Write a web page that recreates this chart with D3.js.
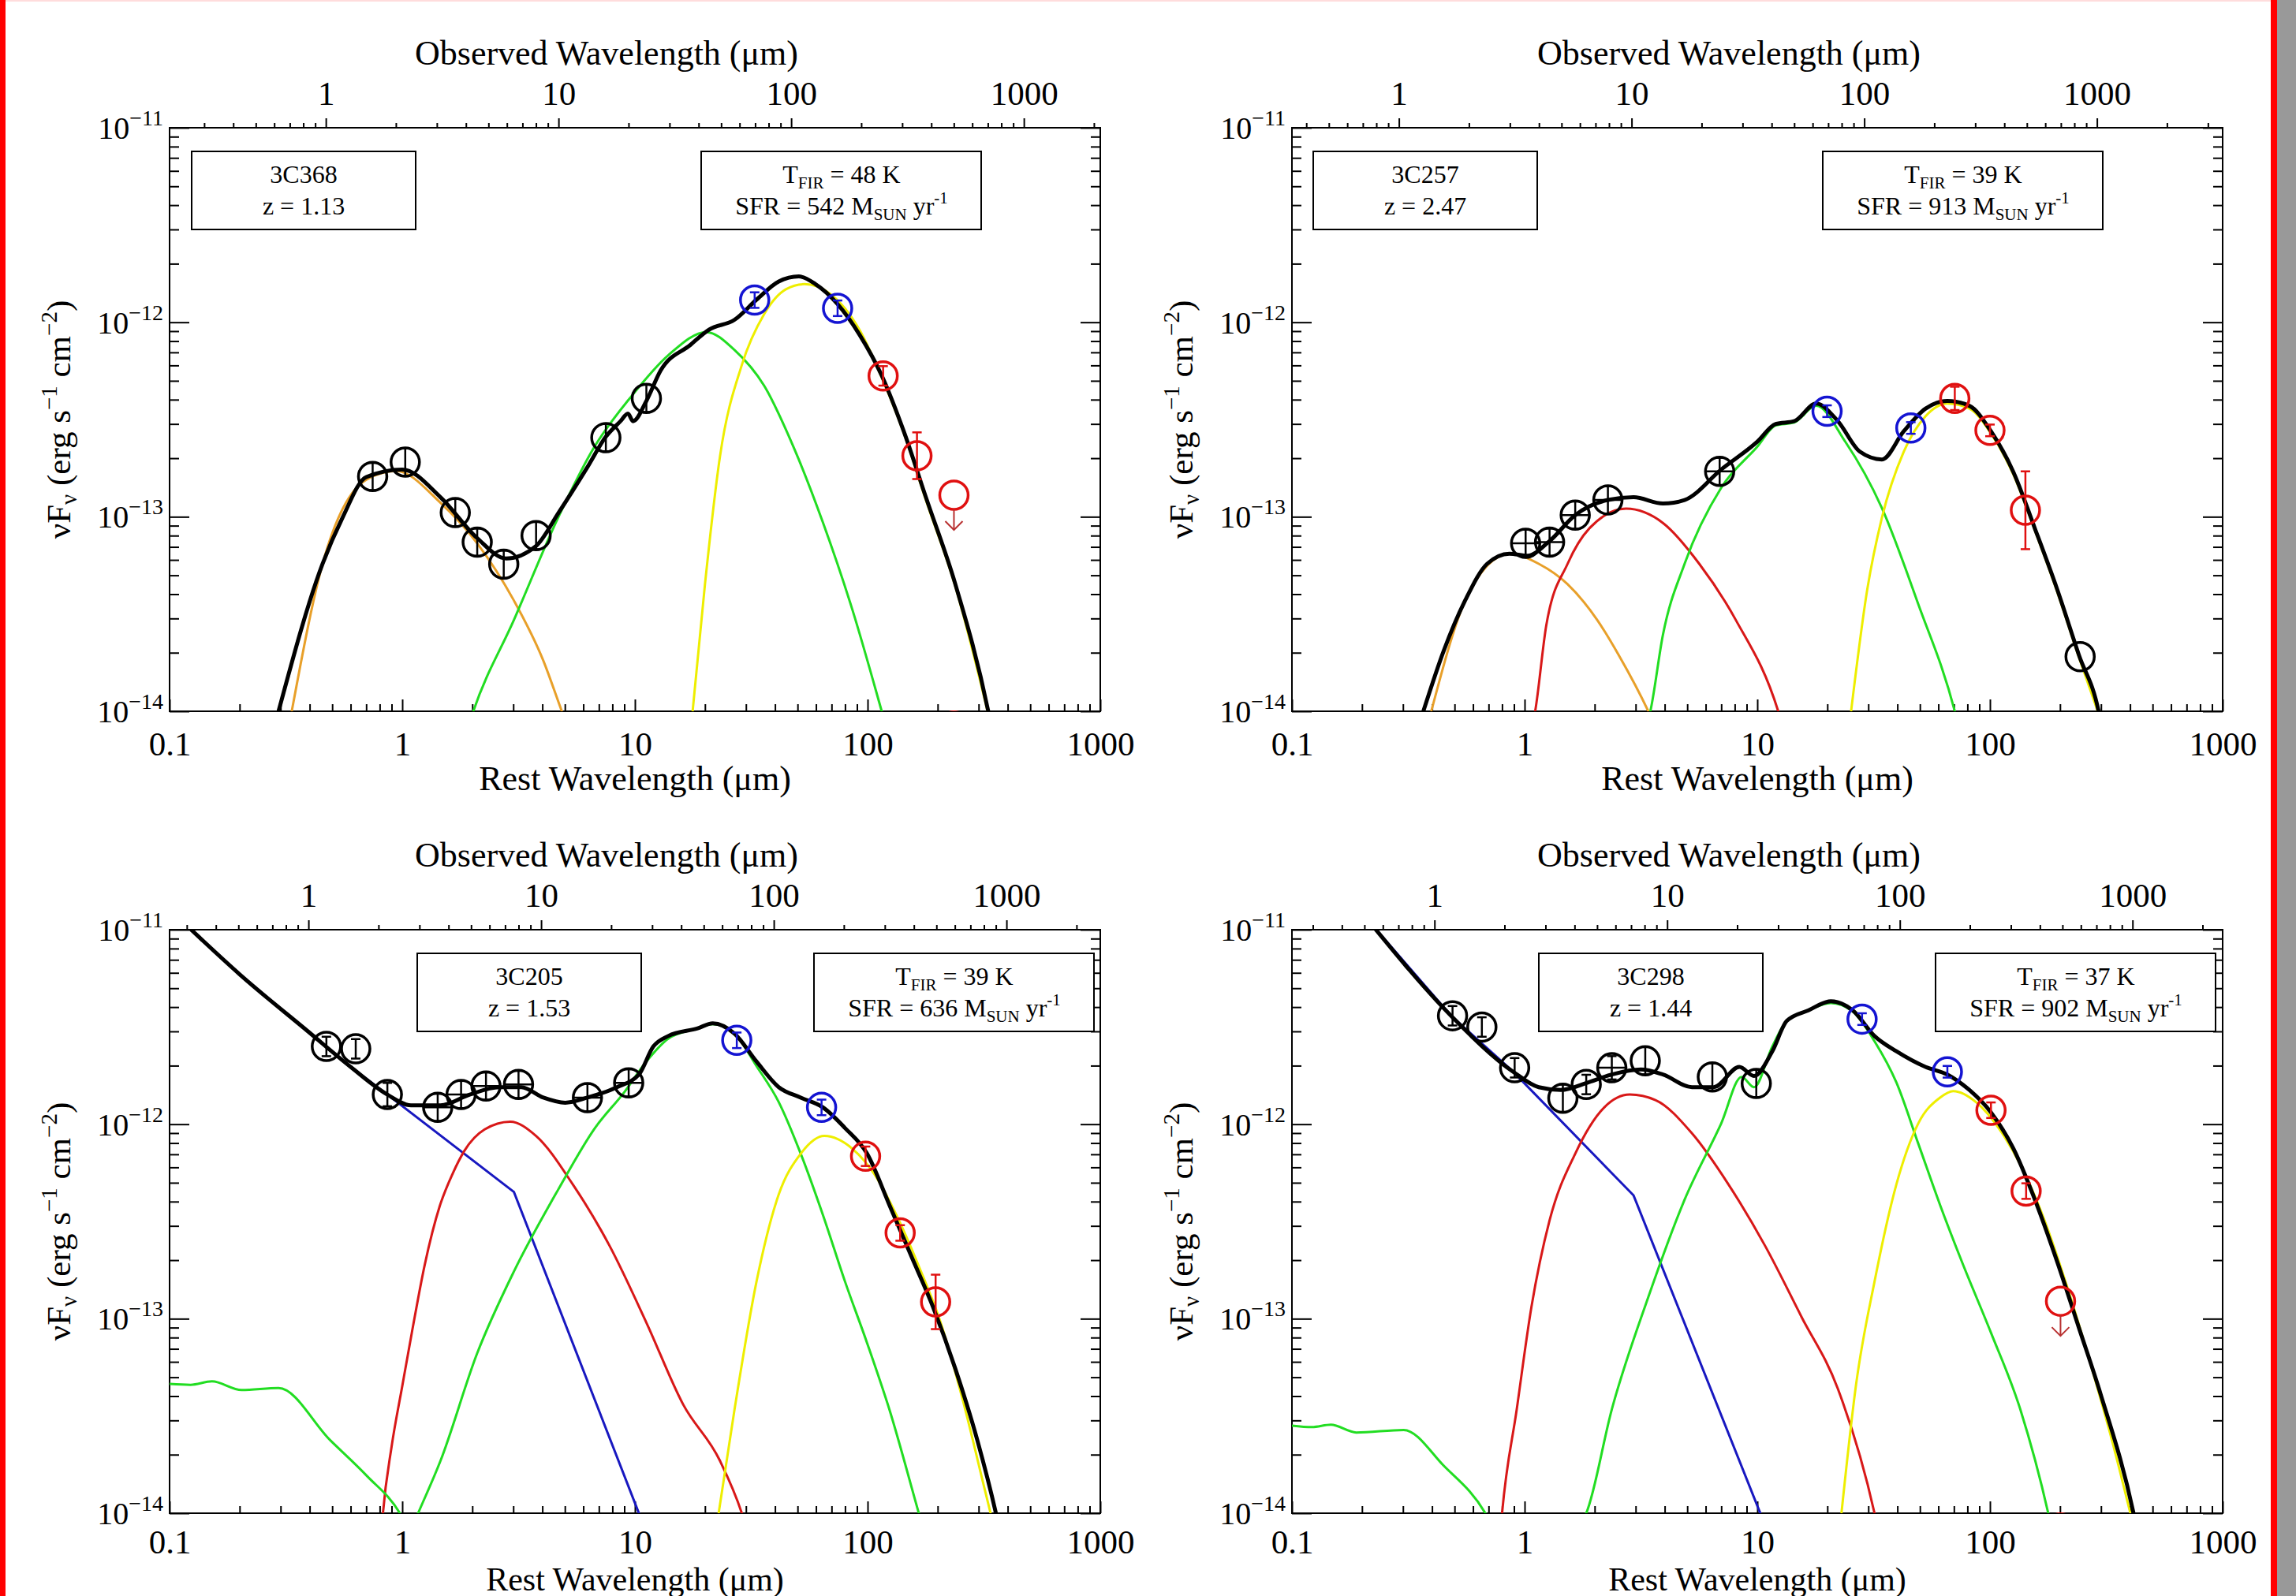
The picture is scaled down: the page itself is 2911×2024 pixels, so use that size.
<!DOCTYPE html>
<html>
<head>
<meta charset="utf-8">
<script src="https://cdn.jsdelivr.net/npm/d3@7"></script>
<style>
  body { margin: 0; background: #fff; }
  svg text { font-family: "Liberation Serif", "Times New Roman", serif; fill: #000; }
</style>
</head>
<body>
<svg id="sed" width="2911" height="2024"></svg>
<script>
/* SED panels: rest wavelength vs nuFnu, with observed wavelength on top */
const svg = d3.select("svg#sed");
const plotWidth = 1180;
const plotHeight = 740;
const panelOrigins = [[215, 162], [1638, 162], [215, 1179], [1638, 1179]];
const leftBoxX = [28, 27, 314, 313];
const rightBoxX = [674, 673, 817, 816];
const bottomTitleY = [100, 100, 97.5, 97.5];
const bottomTitleSize = [44, 44, 42, 42];
const bottomLabelPad = [25, 25, 20, 20];

// sources
const sourceNames = ["3C368", "3C257", "3C205", "3C298"];
const redshifts = [1.13, 2.47, 1.53, 1.44];
const dustTemps = [48, 39, 39, 37];
const starRates = [542, 913, 636, 902];

// axis ticks
const restMajor = [0.1, 1, 10, 100, 1000];
const obsMajor = [1, 10, 100, 1000];
const fluxMajor = [1e-14, 1e-13, 1e-12, 1e-11];
const fluxExponents = ["\u221214", "\u221213", "\u221212", "\u221211"];
const minorMultipliers = [2, 3, 4, 5, 6, 7, 8, 9];

// ---- 3C368 (model curves: [rest um, nuFnu]) ----
const total3C368 = [[0.294,1.0e-14],[0.455,5.75e-14],[0.553,9.86e-14],[0.70,1.6e-13],[1.0,1.75e-13],[1.46,1.26e-13],
  [2.1,7.76e-14],[2.8,6.1e-14],[3.76,7.08e-14],[4.7,1.05e-13],[6.25,1.8e-13],[7.5,2.58e-13],[8.67,3.1e-13],
  [9.33,3.39e-13],[9.82,3.1e-13],[11.2,3.94e-13],[12.9,5.65e-13],[17.3,7.64e-13],[20.8,9.16e-13],[26.8,1.03e-12],
  [33.4,1.31e-12],[41.5,1.62e-12],[50.6,1.72e-12],[59.7,1.57e-12],[74.3,1.24e-12],[92.5,8.6e-13],[115,5.32e-13],
  [143,2.75e-13],[178,1.26e-13],[238,4.52e-14],[330,1.0e-14],[350,7e-15]];
const stars3C368 = [[0.335,1.0e-14],[0.455,5.75e-14],[0.70,1.55e-13],[0.94,1.72e-13],[1.46,1.18e-13],[2.1,7.3e-14],
  [3.0,3.76e-14],[4.04,1.82e-14],[4.85,1.0e-14],[5.2,8e-15]];
const torus3C368 = [[1.9,8e-15],[2.02,1.0e-14],[3.02,2.95e-14],[4.67,9.86e-14],[6.7,2.29e-13],[9.7,4.19e-13],[13.9,6.76e-13],
  [20.3,8.9e-13],[26.8,7.2e-13],[35.9,4.72e-13],[48,2.29e-13],[64.3,9.33e-14],[86,3.33e-14],[115,1.0e-14],[125,7e-15]];
const cold3C368 = [[17.7,1.0e-14],[20,4.5e-14],[23.2,2.04e-13],[28.8,6.03e-13],[35.9,1.1e-12],[44.7,1.48e-12],[53.6,1.57e-12],
  [69,1.4e-12],[92.5,9.1e-13],[115,5.2e-13],[143,2.7e-13],[178,1.22e-13],[238,4.4e-14],[330,9.7e-15]];
// photometry: [rest um, nuFnu, y error (dex), x error (dex), instrument]
const phot3C368 = [[0.746,1.61e-13,0.07,0,"nir"],[1.03,1.91e-13,0.07,0,"nir"],[1.69,1.05e-13,0.07,0,"nir"],
  [2.1,7.4e-14,0.07,0,"nir"],[2.73,5.7e-14,0.07,0,"nir"],[3.76,8.0e-14,0.07,0,"nir"],[7.5,2.55e-13,0.07,0,"nir"],
  [11.2,4.06e-13,0.07,0,"nir"],[32.7,1.3e-12,0.04,0,"pacs"],[74.3,1.18e-12,0.04,0,"pacs"],
  [116.6,5.3e-13,0.05,0,"spire"],[163,2.06e-13,0.12,0,"spire"],[235,1.29e-13,0,0,"limit"],[235,8.4e-15,0,0,"spire"]];

// ---- 3C257 ----
const total3C257 = [[0.367,1.0e-14],[0.45,2.06e-14],[0.558,3.76e-14],[0.69,5.73e-14],[0.86,6.46e-14],[1.03,6.31e-14],
  [1.28,7.5e-14],[1.65,1.02e-13],[2.28,1.22e-13],[2.94,1.26e-13],[3.93,1.17e-13],[4.87,1.22e-13],[7.0,1.75e-13],
  [10,2.43e-13],[12,3.0e-13],[14.4,3.1e-13],[17.9,3.82e-13],[22.2,3.1e-13],[27.6,2.16e-13],[34.3,1.97e-13],
  [42.6,2.75e-13],[52.9,3.6e-13],[65.6,3.94e-13],[81.5,3.72e-13],[101,2.75e-13],[126,1.7e-13],[156,8.7e-14],
  [194,4.27e-14],[241,1.95e-14],[293,1.0e-14],[310,7e-15]];
const stars3C257 = [[0.397,1.0e-14],[0.558,3.76e-14],[0.69,5.6e-14],[0.86,6.46e-14],[1.15,5.73e-14],[1.53,4.5e-14],
  [2.05,2.95e-14],[2.54,1.94e-14],[3.4,1.0e-14],[3.7,8e-15]];
const hot3C257 = [[1.07,8e-15],[1.11,1.0e-14],[1.24,2.78e-14],[1.53,5.73e-14],[1.9,8.73e-14],[2.73,1.1e-13],[3.93,9.29e-14],
  [5.63,5.73e-14],[8.08,2.95e-14],[12.3,1.0e-14],[13,8e-15]];
const torus3C257 = [[3.3,8e-15],[3.47,1.0e-14],[3.93,2.47e-14],[4.87,5.73e-14],[7.0,1.41e-13],[10,2.29e-13],[12,2.95e-13],
  [14.4,3.05e-13],[17.9,3.72e-13],[23.9,2.43e-13],[34.3,1.11e-13],[49.2,3.55e-14],[70.6,1.0e-14],[76,7e-15]];
const cold3C257 = [[25.3,1.0e-14],[29.7,4.24e-14],[34.3,9.86e-14],[42.6,2.16e-13],[52.9,3.29e-13],[65.6,3.82e-13],
  [81.5,3.6e-13],[101,2.68e-13],[126,1.65e-13],[156,8.5e-14],[194,4.15e-14],[241,1.9e-14],[293,9.7e-15]];
const phot3C257 = [[1.01,7.3e-14,0.07,0.06,"nir"],[1.28,7.4e-14,0.07,0.06,"nir"],[1.65,1.02e-13,0.07,0.06,"nir"],
  [2.28,1.22e-13,0.07,0.06,"nir"],[6.89,1.71e-13,0.07,0.06,"nir"],[244,1.91e-14,0,0,"nir"],
  [19.95,3.49e-13,0.03,0,"pacs"],[45.7,2.86e-13,0.03,0,"pacs"],
  [70.6,4.06e-13,0.06,0,"spire"],[100,2.78e-13,0.03,0,"spire"],[142,1.08e-13,0.2,0,"spire"]];

// ---- 3C205 ----
const total3C205 = [[0.112,1.12e-11],[0.2,5.9e-12],[0.4,2.95e-12],[0.6,1.97e-12],[0.863,1.42e-12],[1.09,1.25e-12],
  [1.46,1.25e-12],[1.95,1.42e-12],[2.61,1.55e-12],[3.25,1.55e-12],[4.04,1.37e-12],[5.02,1.29e-12],[6.25,1.37e-12],
  [8.37,1.55e-12],[10.4,1.8e-12],[12.0,2.51e-12],[13.9,2.84e-12],[18.6,3.11e-12],[21.6,3.3e-12],[26.8,2.92e-12],
  [33.3,2.1e-12],[41.5,1.55e-12],[51.6,1.37e-12],[64.3,1.22e-12],[80,9.55e-13],[99.5,7.05e-13],[124,3.85e-13],
  [154,2.1e-13],[191,1.15e-13],[238,5.55e-14],[296,2.38e-14],[356,1.0e-14],[380,7e-15]];
const synch3C205 = [[0.112,1.12e-11],[0.2,5.9e-12],[0.4,2.95e-12],[0.6,1.97e-12],[0.863,1.42e-12],[3.02,4.48e-13],
  [10.4,1.0e-14],[11.5,6e-15]];
const hot3C205 = [[0.8,6e-15],[0.826,1.0e-14],[0.9,2.2e-14],[1.0,4.5e-14],[1.1,8.5e-14],[1.25,1.9e-13],[1.45,3.8e-13],
  [1.65,5.6e-13],[1.85,7.3e-13],[2.26,9.4e-13],[2.91,1.03e-12],[3.76,8.7e-13],[5.41,4.9e-13],[7.78,2.37e-13],
  [11.2,9.55e-14],[16.1,3.63e-14],[23.2,1.86e-14],[28.8,1.0e-14],[30.5,8e-15]];
const torus3C205 = [[0.1,4.62e-14],[0.123,4.57e-14],[0.152,4.76e-14],[0.204,4.3e-14],[0.294,4.4e-14],[0.489,2.38e-14],
  [0.703,1.56e-14],[0.977,1.0e-14],[1.08,8e-15],[1.17,1.0e-14],[1.46,1.86e-14],[2.1,6.65e-14],[3.02,1.75e-13],
  [4.68,4.61e-13],[6.73,9.55e-13],[9.0,1.46e-12],[11.2,2.1e-12],[13.9,2.75e-12],[18.6,3.11e-12],[21.6,3.27e-12],
  [26.8,2.92e-12],[33.3,1.99e-12],[41.5,1.3e-12],[51.6,7.05e-13],[64.3,3.41e-13],[80,1.55e-13],[99.5,7.5e-14],
  [124,3.42e-14],[166,1.0e-14],[175,8e-15]];
const cold3C205 = [[22.9,1.0e-14],[26.8,3.42e-14],[33.3,1.55e-13],[41.5,4.35e-13],[51.6,7.05e-13],[65.2,8.7e-13],
  [86,7.48e-13],[107,5.53e-13],[133,3.41e-13],[166,1.86e-13],[206,9.55e-14],[256,3.85e-14],[320,1.3e-14],[345,9e-15]];
const phot3C205 = [[0.472,2.51e-12,0.05,0,"nir"],[0.631,2.44e-12,0.05,0,"nir"],[0.863,1.42e-12,0.06,0,"nir"],
  [1.42,1.22e-12,0.07,0.06,"nir"],[1.79,1.42e-12,0.07,0.06,"nir"],[2.29,1.57e-12,0.07,0.06,"nir"],
  [3.16,1.6e-12,0.07,0.06,"nir"],[6.25,1.37e-12,0.07,0.06,"nir"],[9.4,1.63e-12,0.07,0.06,"nir"],
  [27.4,2.7e-12,0.04,0,"pacs"],[63.4,1.22e-12,0.04,0,"pacs"],
  [98,6.84e-13,0.05,0,"spire"],[138,2.76e-13,0.04,0,"spire"],[196,1.22e-13,0.14,0,"spire"]];

// ---- 3C298 ----
const total3C298 = [[0.215,1.1e-11],[0.483,3.61e-12],[0.893,1.86e-12],[1.15,1.55e-12],[1.43,1.5e-12],
  [1.9,1.65e-12],[2.37,1.8e-12],[3.16,1.91e-12],[3.93,1.8e-12],[5.24,1.55e-12],[6.5,1.55e-12],[8.37,1.97e-12],
  [9.68,1.77e-12],[11.6,2.37e-12],[13.4,3.4e-12],[16.6,3.85e-12],[20.7,4.29e-12],[25.7,3.85e-12],[31.9,2.84e-12],
  [39.6,2.37e-12],[52.8,1.97e-12],[65.6,1.8e-12],[81.5,1.5e-12],[101,1.15e-12],[126,7.5e-13],[156,4.09e-13],
  [194,1.98e-13],[241,9.0e-14],[299,4.09e-14],[414,1.0e-14],[440,7e-15]];
const synch3C298 = [[0.215,1.1e-11],[0.483,3.61e-12],[0.893,1.86e-12],[2.94,4.3e-13],[10.3,1.0e-14],[11.5,6e-15]];
const hot3C298 = [[0.78,7e-15],[0.80,1.0e-14],[0.925,3.42e-14],[1.07,1.15e-13],[1.28,3.2e-13],[1.65,7.05e-13],[2.2,1.22e-12],
  [2.83,1.42e-12],[3.65,1.33e-12],[5.24,8.97e-13],[7.52,4.9e-13],[10.8,2.37e-13],[15.5,1.02e-13],[22.2,4.36e-14],
  [31.9,1.0e-14],[34,7e-15]];
const torus3C298 = [[0.1,2.82e-14],[0.122,2.77e-14],[0.147,2.85e-14],[0.189,2.6e-14],[0.302,2.68e-14],[0.45,1.75e-14],
  [0.678,1.0e-14],[0.75,8e-15],[1.6,8e-15],[1.84,1.0e-14],[2.37,3.42e-14],[3.4,1.29e-13],[4.87,4.09e-13],[7.0,1.01e-12],
  [8.56,1.75e-12],[9.68,1.55e-12],[11.6,2.51e-12],[13.4,3.4e-12],[16.6,3.85e-12],[20.7,4.2e-12],[25.7,3.8e-12],
  [31.9,2.67e-12],[39.6,1.64e-12],[49.2,7.94e-13],[61,3.85e-13],[75.9,1.95e-13],[101,8.47e-14],[135,3.42e-14],
  [178,1.0e-14],[190,7e-15]];
const cold3C298 = [[23,1.0e-14],[26.6,4.62e-14],[31.9,1.55e-13],[39.6,4.9e-13],[49.2,1.01e-12],[61,1.37e-12],[69.5,1.48e-12],
  [87.7,1.29e-12],[109,9.55e-13],[135,6.2e-13],[170,3.3e-13],[215,1.45e-13],[270,5.9e-14],[340,2.2e-14],[410,9e-15]];
const phot3C298 = [[0.49,3.61e-12,0.05,0,"nir"],[0.655,3.16e-12,0.05,0,"nir"],[0.906,1.95e-12,0.05,0,"nir"],
  [1.46,1.36e-12,0.07,0,"nir"],[1.84,1.6e-12,0.05,0,"nir"],[2.37,1.95e-12,0.06,0.06,"nir"],[3.3,2.12e-12,0.07,0,"nir"],
  [6.41,1.75e-12,0.07,0,"nir"],[9.9,1.62e-12,0.07,0,"nir"],
  [28.2,3.47e-12,0.03,0,"pacs"],[65.6,1.86e-12,0.03,0,"pacs"],
  [101,1.18e-12,0.04,0,"spire"],[143,4.53e-13,0.04,0,"spire"],[201,1.23e-13,0,0,"limit"],[201,8.4e-15,0,0,"spire"]];

// component colours
const compColors = { stars: "#e8a02a", hot: "#d81818", torus: "#22dd22", cold: "#eeee00", synch: "#1818c0" };
const markerColors = { nir: "#000000", pacs: "#1414d2", spire: "#e01010", limit: "#e01010" };

const panels = [
  { total: total3C368, comps: [["stars", stars3C368], ["torus", torus3C368], ["cold", cold3C368]], phot: phot3C368 },
  { total: total3C257, comps: [["stars", stars3C257], ["hot", hot3C257], ["torus", torus3C257], ["cold", cold3C257]], phot: phot3C257 },
  { total: total3C205, comps: [["synch", synch3C205], ["hot", hot3C205], ["torus", torus3C205], ["cold", cold3C205]], phot: phot3C205 },
  { total: total3C298, comps: [["synch", synch3C298], ["hot", hot3C298], ["torus", torus3C298], ["cold", cold3C298]], phot: phot3C298 }
];

// page border
svg.append("rect").attr("width", 2911).attr("height", 2024).attr("fill", "#fff");
svg.append("rect").attr("x", 0).attr("y", 0).attr("width", 2879).attr("height", 2).attr("fill", "#ffdcdc");
svg.append("rect").attr("x", 0).attr("y", 0).attr("width", 7).attr("height", 2024).attr("fill", "#ff0000");
svg.append("rect").attr("x", 2879).attr("y", 0).attr("width", 8).attr("height", 2024).attr("fill", "#ff0000");
svg.append("rect").attr("x", 2887).attr("y", 0).attr("width", 24).attr("height", 2024).attr("fill", "#999999");

const minorOf = (decades, lo, hi) =>
  decades.flatMap((d) => minorMultipliers.map((m) => d * m)).filter((v) => v > lo * 1.0001 && v < hi * 0.9999);

function styleAxis(g) {
  g.select(".domain").remove();
  g.selectAll("line").attr("stroke", "#000").attr("stroke-width", 2);
  g.selectAll("text").style("font-size", "43px").attr("fill", "#000");
}

panels.forEach((p, i) => {
  const [ox, oy] = panelOrigins[i];
  const z = redshifts[i];
  const chart = svg.append("g").attr("transform", `translate(${ox},${oy})`);

  const x = d3.scaleLog().domain([0.1, 1000]).range([0, plotWidth]);
  const xObs = d3.scaleLog().domain([0.1 * (1 + z), 1000 * (1 + z)]).range([0, plotWidth]);
  const y = d3.scaleLog().domain([1e-14, 1e-11]).range([plotHeight, 0]);

  // clip
  const clipId = `clip${i}`;
  chart.append("clipPath").attr("id", clipId)
    .append("rect").attr("width", plotWidth).attr("height", plotHeight);

  // bottom axis (rest)
  chart.append("g").attr("transform", `translate(0,${plotHeight})`)
    .call(d3.axisBottom(x).tickValues(minorOf([0.1, 1, 10, 100], 0.1, 1000)).tickSize(-9).tickFormat(""))
    .call(styleAxis);
  chart.append("g").attr("transform", `translate(0,${plotHeight})`)
    .call(d3.axisBottom(x).tickValues(restMajor).tickSize(-15).tickPadding(bottomLabelPad[i]).tickFormat((d) => String(d)))
    .call(styleAxis);

  // top axis (observed)
  const [oLo, oHi] = xObs.domain();
  chart.append("g")
    .call(d3.axisTop(xObs).tickValues(minorOf([0.1, 1, 10, 100, 1000], oLo, oHi)).tickSize(6).tickFormat(""))
    .call(styleAxis);
  chart.append("g")
    .call(d3.axisTop(xObs).tickValues(obsMajor.filter((v) => v > oLo && v < oHi)).tickSize(12).tickPadding(17).tickFormat((d) => String(d)))
    .call(styleAxis);

  // left and right axes
  const fluxMinor = minorOf([1e-14, 1e-13, 1e-12], 1e-14, 1e-11);
  chart.append("g").call(d3.axisLeft(y).tickValues(fluxMinor).tickSize(-12).tickFormat("")).call(styleAxis);
  chart.append("g").call(d3.axisLeft(y).tickValues(fluxMajor).tickSize(-25).tickFormat("")).call(styleAxis);
  chart.append("g").attr("transform", `translate(${plotWidth},0)`)
    .call(d3.axisRight(y).tickValues(fluxMinor).tickSize(-12).tickFormat("")).call(styleAxis);
  chart.append("g").attr("transform", `translate(${plotWidth},0)`)
    .call(d3.axisRight(y).tickValues(fluxMajor).tickSize(-25).tickFormat("")).call(styleAxis);

  // y tick labels 10^-n
  fluxMajor.forEach((v, k) => {
    const t = chart.append("text")
      .attr("x", -8).attr("y", y(v) + 14)
      .attr("text-anchor", "end").style("font-size", "40px");
    t.append("tspan").text("10");
    t.append("tspan").attr("dy", -17).style("font-size", "28px").text(fluxExponents[k]);
  });

  // frame
  chart.append("rect").attr("width", plotWidth).attr("height", plotHeight)
    .attr("fill", "none").attr("stroke", "#000").attr("stroke-width", 2);

  // axis titles
  chart.append("text").attr("x", plotWidth / 2 - 36).attr("y", -80)
    .attr("text-anchor", "middle").style("font-size", "44px").text("Observed Wavelength (\u03bcm)");
  chart.append("text").attr("x", plotWidth / 2).attr("y", plotHeight + bottomTitleY[i])
    .attr("text-anchor", "middle").style("font-size", `${bottomTitleSize[i]}px`).text("Rest Wavelength (\u03bcm)");
  const yt = chart.append("text")
    .attr("transform", `translate(-126,${plotHeight / 2}) rotate(-90)`)
    .attr("text-anchor", "middle").style("font-size", "43px");
  yt.append("tspan").text("\u03bdF");
  yt.append("tspan").attr("dy", 8).style("font-size", "29px").text("\u03bd");
  yt.append("tspan").attr("dy", -8).text(" (erg s");
  yt.append("tspan").attr("dy", -17).style("font-size", "29px").text("\u22121");
  yt.append("tspan").attr("dy", 17).text(" cm");
  yt.append("tspan").attr("dy", -17).style("font-size", "29px").text("\u22122");
  yt.append("tspan").attr("dy", 17).text(")");

  // info boxes
  const boxTop = 30, boxH = 99;
  chart.append("rect").attr("x", leftBoxX[i]).attr("y", boxTop).attr("width", 284).attr("height", boxH)
    .attr("fill", "#fff").attr("stroke", "#000").attr("stroke-width", 2);
  chart.append("rect").attr("x", rightBoxX[i]).attr("y", boxTop).attr("width", 355).attr("height", boxH)
    .attr("fill", "#fff").attr("stroke", "#000").attr("stroke-width", 2);
  const lcx = leftBoxX[i] + 142;
  chart.append("text").attr("x", lcx).attr("y", boxTop + 40).attr("text-anchor", "middle")
    .style("font-size", "32px").text(sourceNames[i]);
  chart.append("text").attr("x", lcx).attr("y", boxTop + 80).attr("text-anchor", "middle")
    .style("font-size", "32px").text(`z = ${redshifts[i].toFixed(2)}`);
  const rcx = rightBoxX[i] + 178;
  const t1 = chart.append("text").attr("x", rcx).attr("y", boxTop + 40).attr("text-anchor", "middle").style("font-size", "32px");
  t1.append("tspan").text("T");
  t1.append("tspan").attr("dy", 7).style("font-size", "21px").text("FIR");
  t1.append("tspan").attr("dy", -7).text(`  = ${dustTemps[i]} K`);
  const t2 = chart.append("text").attr("x", rcx).attr("y", boxTop + 80).attr("text-anchor", "middle").style("font-size", "32px");
  t2.append("tspan").text(`SFR  = ${starRates[i]} M`);
  t2.append("tspan").attr("dy", 7).style("font-size", "21px").text("SUN");
  t2.append("tspan").attr("dy", -7).text(" yr");
  t2.append("tspan").attr("dy", -14).style("font-size", "21px").text("-1");

  // model curves
  const plotArea = chart.append("g").attr("clip-path", `url(#${clipId})`);
  const smooth = d3.line().x((d) => x(d[0])).y((d) => y(d[1])).curve(d3.curveMonotoneX);
  const straight = d3.line().x((d) => x(d[0])).y((d) => y(d[1]));
  p.comps.forEach(([kind, pts]) => {
    plotArea.append("path")
      .attr("d", kind === "synch" ? straight(pts) : smooth(pts))
      .attr("fill", "none").attr("stroke", compColors[kind]).attr("stroke-width", 3);
  });
  plotArea.append("path").attr("d", smooth(p.total))
    .attr("fill", "none").attr("stroke", "#000").attr("stroke-width", 5).attr("stroke-linejoin", "round");

  // photometry
  const r = 18;
  p.phot.forEach(([lam, f, ey, ex, inst]) => {
    const cx = x(lam), cy = y(f);
    const col = markerColors[inst];
    const m = plotArea.append("g").attr("stroke", col).attr("fill", "none");
    m.append("circle").attr("cx", cx).attr("cy", cy).attr("r", r).attr("stroke-width", 3.5);
    if (ey > 0) {
      const y1 = y(f * Math.pow(10, ey)), y2 = y(f / Math.pow(10, ey));
      m.append("line").attr("x1", cx).attr("x2", cx).attr("y1", y1).attr("y2", y2).attr("stroke-width", 2.5);
      m.append("line").attr("x1", cx - 6).attr("x2", cx + 6).attr("y1", y1).attr("y2", y1).attr("stroke-width", 2.5);
      m.append("line").attr("x1", cx - 6).attr("x2", cx + 6).attr("y1", y2).attr("y2", y2).attr("stroke-width", 2.5);
    }
    if (ex > 0) {
      m.append("line").attr("x1", x(lam / Math.pow(10, ex))).attr("x2", x(lam * Math.pow(10, ex)))
        .attr("y1", cy).attr("y2", cy).attr("stroke-width", 2.5);
    }
    if (inst === "limit") {
      const tip = cy + r + 26;
      const a = m.append("g").attr("stroke", "#b83030").attr("stroke-width", 2);
      a.append("line").attr("x1", cx).attr("x2", cx).attr("y1", cy + r).attr("y2", tip);
      a.append("path").attr("d", `M${cx - 11},${tip - 11}L${cx},${tip}L${cx + 11},${tip - 11}`);
    }
  });
});
</script>
</body>
</html>
